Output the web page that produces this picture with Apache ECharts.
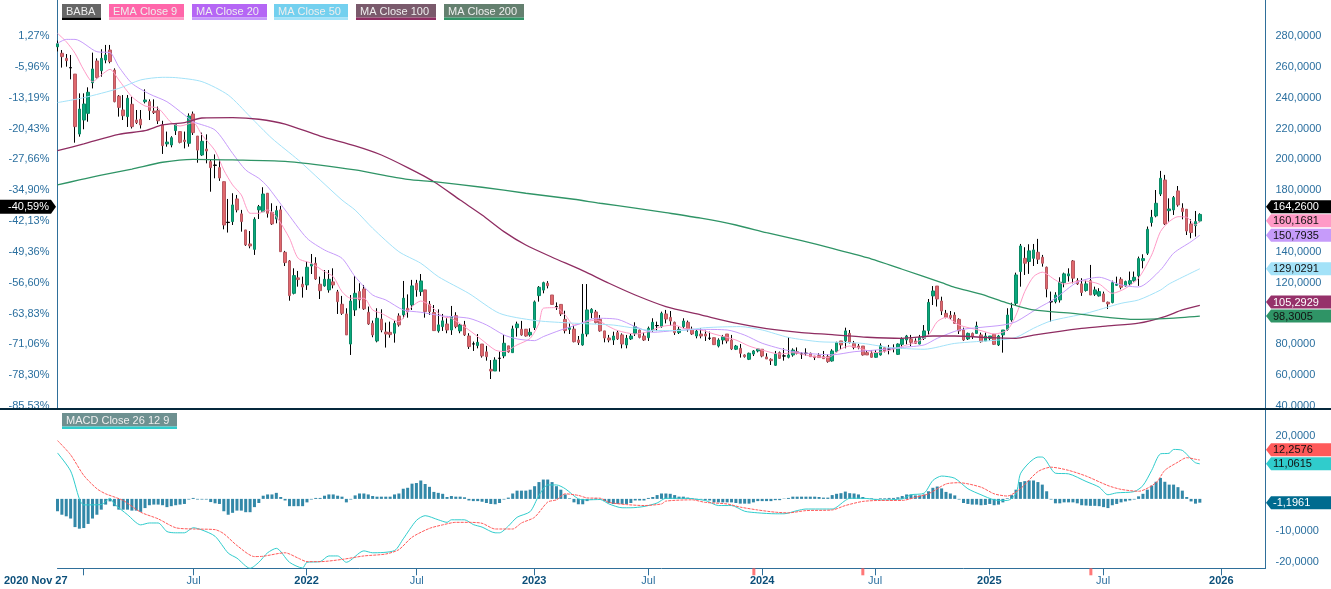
<!DOCTYPE html>
<html>
<head>
<meta charset="utf-8">
<title>BABA</title>
<script src="https://cdn.jsdelivr.net/npm/echarts@6/dist/echarts.min.js"></script>
<style>
html, body { margin: 0; padding: 0; background: #fff; }
#chart { width: 1331px; height: 589px; }
</style>
</head>
<body>
<div id="chart"></div>
<script>
// weekly candles
var opens = [273,
268.8,265.5,259.5,255.3,216.4,225.5,229.8,249.7,263.8,257.5,
264.4,270.9,257.9,241,232,227.7,235.7,225.5,226,237.4,
237.4,231.3,231.6,222.3,210,209.3,218.6,218,212.5,210.4,
229.4,215.1,202.8,206.7,198.5,196.3,194.6,185.5,159.2,159.6,
174.3,164.6,154.2,145.1,141.6,167.2,166,178,165.6,161.3,
167.2,139.7,134.1,113.1,123.1,119,118.5,130.8,132.6,119,
117.9,115.3,120.5,114,106,99.7,80.2,102.3,114.2,115.9,
100.8,93.6,82.2,96.4,88,87.8,87.2,98.4,99.1,103.4,
105.5,119.6,114.2,115.3,106,100.6,88.7,91.5,93.2,89.3,
98.6,88.7,92.6,85.4,80.3,79.2,80.2,75.1,63.8,62.7,
71,72.5,79,74.6,90.8,89.8,89.8,86.1,90.8,111.6,
115.2,119.6,112,104.5,105.9,96.2,89.7,89.9,82.8,79.6,
86.7,100.5,101,96.2,88.7,84.1,82.8,87.6,86.1,79.6,
83.5,87.1,89.3,85.4,84.3,89.3,92.2,91.5,99.7,97.5,
94.3,87.6,91.5,94.3,89.7,85.4,86.7,86.7,84,84.3,
78.9,82.8,86.7,82.8,76.8,77.4,73.1,70.3,73.7,75.7,
76.8,71.8,70.3,66.4,74.6,72.5,71.6,73.1,75.2,73.8,
74.3,74.2,72.4,72.7,72,72,69.2,75.2,82.2,82.2,
87.1,80.6,78.9,78.9,74.6,74.2,71.6,73.1,77.8,77,
77.4,73.5,80,82.8,83.5,82.2,80.2,83.9,88.9,111.4,
117.8,108.1,100.1,98.8,99,96.2,89.3,83.5,87.1,87.1,
86.1,82.2,83.9,86.5,79.6,86.1,89.7,95.8,106.6,127.2,
135.8,133.7,135.8,139.7,136.5,130,107.7,107.7,108.8,120,
124.4,134.1,121.3,119.2,114.9,121.3,112.5,111.4,112.7,107.3,
107.1,118.3,122.2,117.9,119.2,121.3,124.4,134.3,139.1,159,
163.3,177.5,186.6,166.7,167.2,179.5,168.3,167.6,158.1,157,160];
var closes = [275,
266.6,264,259.3,221.2,232.6,235.9,243.5,258.6,253,265.5,
267.7,263.4,237.4,233.7,228.3,239.6,221.2,223.8,222.3,238.5,
231.6,230.3,225,208.9,211.2,214,222.9,211,211.5,228.1,
217.3,206,211.7,205.4,194.6,196.1,187.9,157.4,159,170.4,
167.2,159.6,144.5,143.8,161.1,169.3,177.5,165,158.1,166.7,
140.1,133,111.6,124.6,122,117.2,130,132.1,122.4,114.8,
122.2,122.2,118.5,107.7,100.1,86.1,108.1,113.1,108.8,103,
93.2,86.1,96.9,89.3,86.7,86.3,93.6,92.6,109.9,101.2,
117.9,115.3,121.1,101.2,101.2,88.9,92.6,95.2,89.3,98,
91.5,92.6,86.1,78.5,80.2,81.3,72.5,72,62.7,69.8,
70.9,80.7,75.1,90,93.2,86.1,85.4,87.8,107.5,117,
120,118,105.9,104.3,99.7,88.9,90.8,81.7,81.1,86.7,
102.3,102.7,94.1,88.7,84.1,82.8,85.4,83.5,80.2,83.9,
85.4,91.5,84.5,82.8,90.4,94.3,92.1,100.1,96.4,95.1,
87.6,89.7,95.1,89.7,86.7,88.6,85.4,85.4,83.9,79.8,
82.8,85,82.2,77,78.9,74.2,72,74.2,75.7,77,
72.4,70.5,69.4,73.7,70.9,72.4,73.1,76.3,74.2,73.7,
74,72,71.4,71.4,70.7,68.8,75.7,81.1,79.6,88.7,
81.1,78,78,73.1,73.1,71.6,74.6,79.1,75.7,76.9,
77.3,80.2,83.5,85.4,81.3,80.6,84.5,88.7,107.2,114.6,
109.4,101.6,97.5,97.3,93.6,88.7,82.8,87.1,85,91.9,
81.7,85.4,85.4,80,85.4,89.3,99,103.4,125,143.8,
132.6,140.6,141.2,135.2,132.6,115.9,107.5,112,120.3,125.7,
125.7,122.9,119.2,113.6,119.2,112,115.3,114.2,107.7,106.2,
120,119,117,120.7,121.3,123.5,135.6,135.6,154.6,162.4,
171.5,187.7,158.1,167.8,175.2,170.4,166.1,153.5,152.5,159.6,164.26];
var lows = [270,
259.5,260.1,251.9,210.8,214.7,219.5,224.4,246,252.5,253.6,
262.3,262.3,237,227.7,225.5,221,220,222.9,220,236.3,
225.5,229.4,222.9,203.5,208.2,207.8,215.8,210.4,207.1,208.2,
215.8,197.8,202.2,197.4,179,187.7,186,154.6,152.5,157.4,
165.6,153.1,143.8,142.3,138,161.3,166,162.2,157.4,158.5,
140.1,130.8,108.3,112.4,117.4,110.3,115.3,125.6,121.8,109.4,
117.4,113.5,116.3,99.7,99.1,86.1,73.1,98.4,103.4,102.3,
92.6,84.6,81.3,87.8,77.9,84.3,81.1,91.5,96.9,97.3,
102.3,110.9,111.4,97.3,99.1,88.9,87.6,88.7,87.2,86.1,
90.4,87.2,85.4,77,75.7,77.4,71.4,69.4,57.5,62.7,
62.3,71,74.6,74.6,85,85.6,85,85,89.3,107.7,
113.1,116.3,105.9,102.3,98.4,87.1,86.7,81.3,79.6,79.1,
85,96.9,93.6,88.2,81.3,81.3,79.6,82.8,77.4,77.4,
82.8,85.4,83.9,82.2,82.2,88.2,88.6,90.8,93.6,92.1,
86.1,86.7,90.4,88.2,86.1,83.9,83.9,82.2,82.8,79.6,
78,80,80.6,76.3,76.3,71.4,71.4,69.8,72.4,74.8,
71.6,70.5,66.6,66,70.5,69.4,70.9,72,73.5,70.5,
72.6,72,69.8,71.4,70.7,68.1,68.8,74.8,76.8,77.4,
80.6,76.8,76.8,72.7,73.1,71.4,71.4,72.7,74.8,73.5,
74.8,73.1,77.4,80,78.9,80.2,80,82.8,86.1,105.5,
104.5,99,96.9,96.2,93.6,86.7,82.2,82.8,83.5,87.1,
81.1,82.2,82.4,79.6,78.9,74.6,88.9,94.7,105.5,117.4,
125,125.7,130.8,132.1,130.4,110.5,94.7,106.6,107.1,117,
120.7,119.6,118.5,111.4,114.2,112,111.4,111,107.7,102.9,
106.6,117.9,115.7,117.4,117.9,120.7,117.9,129.3,138,156.4,
162.4,176.2,157.4,159.6,163.9,169.3,161.1,150.9,148.8,149.9,159.2];
var highs = [277,
270.9,268.3,267.7,255.3,242.8,242.8,246.7,269.2,265.5,271.4,
274.2,274.2,259,241.7,241.7,241.7,240.6,232,232,245.4,
238.9,238.9,234.2,225,218,215,223.4,218,218,229.8,
231,215.1,217.3,216.2,200,203.2,199.6,185.5,174.3,178,
176.9,167.2,154.2,153.5,162.4,170.4,181.9,178,171.5,169.8,
169.8,140.6,134.7,129.3,127.6,123.9,133.6,138.6,136.5,123.9,
128.2,128.2,129.3,115.3,111.4,103.4,112,124.3,119.6,118.5,
104.5,95.4,103.4,102.7,94.1,94.7,95.4,100.1,121.1,112.4,
121.8,121.8,125.6,115.3,108.1,105.5,102.7,99.7,96.9,104.9,
100.8,93.2,95.2,87.2,81.8,86.7,80.2,79,69.8,71.6,
75.3,86.1,79,92.1,94.7,95.2,89.8,90.4,108.4,117.8,
120.6,121,112,107.2,105.9,101.8,93.6,92.1,85.4,119.1,
119.1,103.4,102.3,99,88.7,86.1,88.2,88.9,87.1,86.1,
86.7,94.3,89.7,87.6,91.5,96.9,94.7,101.2,102.3,101.6,
94.7,91.5,96.9,95.4,91.5,89.9,90.4,88.9,88.2,84.3,
83.9,86.1,86.7,86.1,79.6,80.2,73.5,74.6,76.3,77.4,
76.8,74.2,70.9,75.7,75.3,77.4,84.5,77.4,78,74.8,
77.4,74.6,72.4,74.2,75.7,73.5,76.8,81.7,82.2,90.8,
89.3,82.2,80.2,78.9,76.3,76.3,76.3,80.6,77.8,79.6,
80,80.6,84.5,86.1,86.1,83.9,86.1,92.5,109.4,117.8,
117.8,110.9,102.3,101.6,100.8,96.9,90.8,87.6,87.6,94.7,
87.6,87.6,85.4,86.7,86.1,89.3,103.4,107,126.5,145.1,
143,144.9,145.1,148.4,138,130.4,114.2,113.8,123.5,126.5,
129.3,134.7,122.9,122.9,121.3,131.5,117.4,116.4,114.2,107.7,
121.3,123.9,123.5,121.3,127.2,127.2,136.9,138.4,156.4,167.2,
180.1,192.5,189.9,174.7,176.2,182.7,171.5,167.6,161.1,166.5,165];

// moving averages as [week, value], read at points along each curve
var ema9 = [[0,281.7],[2,276.3],[4,268.8],[6,258],[8,250.4],[10,254.7],[12,258.4],[14,251.5],[17,240.6],[20,234.6],[23,233.1],[26,223.8],[28,221.6],[31,223.8],[33,215.8],[36,205.6],[38,193],[40,183.4],[42,176.9],[44,165],[46,165],[48,167.2],[50,162.8],[53,148.8],[55,135.8],[58,132.6],[61,127.2],[63,123.9],[65,114.2],[67,109.9],[70,109.9],[72,102.3],[74,100.1],[78,94.7],[80,101.2],[81,104.5],[83,108.1],[85,105.5],[88,98],[90,96.9],[94,89.3],[97,82.8],[100,76.3],[102,75.3],[105,79.6],[108,83.9],[110,93.6],[111,103.4],[114,103.8],[116,99],[118,92.5],[121,94.7],[123,95.8],[126,91.5],[128,88.9],[132,86.7],[135,88.2],[138,91.5],[141,92.5],[143,90.4],[147,89.3],[150,86.7],[155,82.8],[158,78.9],[161,76.3],[165,73.7],[168,74.6],[172,72.4],[176,71.4],[179,77],[181,78.9],[184,76.8],[187,74.6],[191,76.8],[194,79.6],[196,81.1],[199,86],[201,94.7],[203,97.5],[206,92.5],[211,88.9],[214,86.7],[217,89.3],[219,99],[221,114.2],[223,123.9],[225,126.8],[228,121.7],[230,119.1],[234,121.3],[238,119.1],[241,113.1],[244,116.3],[247,123],[250,138],[252,153.1],[254,159.6],[256,162.8],[258,162.4],[260,157.4],[261,160.17]];
var ma20 = [[0,275.2],[2,277.8],[4,277.8],[9,269.8],[12,269.2],[14,260.1],[17,249.3],[21,242.4],[25,237.4],[29,228.8],[31,224.4],[36,219],[40,203.9],[43,193.1],[46,187.7],[48,182.3],[52,167.2],[57,148.8],[61,141.2],[65,135.8],[68,123.9],[72,112],[75,108.8],[79,102.3],[83,100.8],[88,98.4],[94,96.9],[98,92.6],[102,86.1],[105,83.5],[109,82.4],[111,85],[115,89.3],[119,93],[123,96.9],[128,96.2],[132,91.5],[136,87.8],[141,88.9],[147,89.7],[153,89.3],[157,86],[161,80.7],[167,75.9],[171,74.2],[177,73.2],[182,75.2],[187,76.3],[193,78],[198,79.6],[201,83.9],[206,89.3],[211,91],[216,92.5],[219,94.7],[224,103.4],[228,109.8],[233,120.3],[238,123.5],[243,118.5],[247,117.2],[252,128.2],[255,139.1],[259,146.6],[261,150.79]];
var ma50 = [[0,236.8],[6,240],[14,246],[19,251.5],[24,253.2],[27,253],[33,250.4],[39,241.7],[44,227.7],[49,213.6],[55,199.6],[60,186.6],[65,173.6],[68,167.1],[72,155.3],[78,140.1],[83,132.6],[87,123.9],[94,113],[101,100.1],[109,95.5],[116,94],[122,93.2],[127,92.5],[132,90.4],[136,88.9],[142,88.9],[148,90.8],[156,91.5],[161,89.3],[167,84.5],[174,81.7],[179,81.3],[184,80.6],[190,78],[198,76.8],[205,80.6],[215,82.8],[219,84.5],[223,90.4],[227,95.2],[235,100.1],[243,106.6],[247,108.8],[252,115.2],[254,119.2],[261,129.03]];
var ma100 = [[0,205.6],[6,210],[14,216.2],[20,218.6],[24,222.3],[29,223.8],[33,226.8],[40,227],[46,226],[52,222.9],[60,215.1],[68,208.7],[74,202.8],[80,194.6],[86,185.5],[92,173.6],[97,163.9],[102,153.1],[107,144.4],[113,136.5],[120,127.8],[126,119.6],[132,112],[139,104.5],[147,99.1],[155,93.7],[162,90.2],[170,87.6],[177,86.3],[185,84.6],[193,83.9],[200,85.4],[205,85.4],[213,84.3],[219,83.9],[223,86],[234,90.4],[240,92],[247,93.7],[253,98],[257,102.3],[261,105.29]];
var ma200 = [[0,183.4],[5,186.6],[10,189.8],[17,193.7],[24,198.1],[31,200],[40,199.6],[52,198.7],[60,196.3],[68,193.1],[80,187],[86,185.5],[97,181.9],[107,178],[118,174.1],[124,171.5],[132,168.4],[139,165.4],[147,161.8],[155,157.4],[162,152.4],[170,147.2],[177,142.3],[185,136.2],[193,128.7],[202,120],[205,117],[211,112.5],[216,107.7],[223,102.3],[232,100.1],[240,97.5],[246,96.2],[254,96.9],[261,98.3]];

// MACD panel
var macdLine = [[0,14.5],[3,8.8],[5,0],[6,-1.9],[10,-1.8],[12,0.2],[13,-1.6],[16,-5],[19,-8.2],[21,-7.6],[23,-7.6],[25,-10.3],[27,-10.7],[29,-10.7],[31,-9.1],[33,-9.8],[36,-11.8],[39,-17.1],[41,-18.7],[44,-21.9],[46,-20],[48,-17],[50,-15.6],[53,-20],[56,-21.8],[57,-20],[60,-19.8],[62,-18],[64,-18],[66,-20],[70,-16.4],[72,-17],[77,-16.3],[79,-12.6],[82,-6.8],[84,-5.3],[87,-6.6],[89,-7.4],[90,-6.6],[93,-6.6],[95,-8.1],[97,-8.9],[100,-10.7],[101,-10.7],[103,-8.6],[105,-5.8],[108,-4],[110,1.1],[112,4.4],[114,4.4],[116,3.2],[119,0],[121,-0.3],[124,-0.2],[126,-1.6],[129,-2.8],[131,-2.8],[134,-2.4],[137,-1.3],[139,0.2],[143,0.2],[148,-0.5],[151,-2.1],[154,-2.1],[157,-3.9],[160,-4.4],[164,-4.7],[166,-4.7],[169,-3.7],[171,-3.2],[177,-3.2],[180,-0.5],[181,0.2],[184,0.2],[188,-0.3],[193,0],[195,1.3],[198,1.8],[200,5.8],[202,7.2],[205,6.5],[208,3.2],[211,1.3],[214,-0.3],[217,-0.5],[219,1.6],[220,7.9],[222,11.4],[224,13.2],[225,13.2],[228,8.1],[231,7.9],[235,5.5],[238,3.7],[240,1.3],[242,1.9],[246,2.3],[248,4.2],[250,9],[252,14.2],[254,14.4],[255,15.6],[257,15.3],[259,12.6],[260,11.4],[261,11.06]];
var signalLine = [[0,18.4],[3,13.9],[6,7.4],[9,3.2],[11,1.6],[15,-0.5],[19,-4.2],[23,-6.3],[27,-9.1],[31,-9.5],[36,-9.7],[38,-11],[41,-14.7],[45,-18.2],[47,-18.1],[52,-17],[55,-18.7],[57,-19.8],[60,-19.8],[65,-19.1],[70,-18],[75,-17.4],[78,-16],[81,-12.1],[85,-9.3],[88,-8.2],[91,-7.4],[94,-7.4],[97,-7.7],[100,-9.5],[104,-9.5],[106,-7.6],[109,-5.8],[112,-1],[114,-0.3],[116,1.6],[119,1.1],[121,0.3],[124,0.2],[126,-1.1],[130,-1.8],[134,-2.1],[138,-1.6],[139,-0.7],[145,-0.3],[148,-1.1],[153,-1.6],[156,-2.6],[160,-3.5],[164,-4.2],[167,-4.4],[171,-3.7],[177,-3.5],[180,-2.1],[184,-0.8],[188,-0.5],[193,-0.5],[196,0.5],[199,1.6],[203,4.7],[206,5.1],[211,3.7],[214,1.6],[217,0.9],[220,3.2],[224,8.6],[227,10],[231,9],[235,7.2],[240,4.2],[243,3],[247,2.4],[251,5.1],[253,9],[256,11.6],[258,13],[260,12.5],[261,12.26]];
var macdHist = [-3.9,-5,-5.5,-6.2,-8.9,-9.4,-9.2,-7.9,-6.2,-5,-3.4,-1.8,-0.8,-2.3,-3.4,-3.4,-3.4,-3.7,-3.7,-4.1,
-2.9,-2,-1.8,-1.8,-2,-2.6,-2.3,-2,-1.8,-1.6,-0.2,0.3,-0.2,-0.2,-0.2,-1,-1.4,-1.6,-3.9,-5,
-4.4,-3.7,-3.7,-4.2,-4.2,-2.6,-1.3,1,1.4,1.4,1.9,0.6,-0.5,-2.3,-2.3,-2.3,-2.3,-1.1,-0.2,0.3,
0.3,1,1.4,1.4,1,0.7,-1.1,-0.2,1.1,1.7,1.7,1.4,0.9,0.7,0.7,0.7,0.7,1.4,1.7,3.2,
3.5,4.8,5,5.8,4.7,3.8,2.2,1.9,1.6,0.6,0.9,0.7,0.7,0.5,-0.5,-0.7,-0.7,-0.9,-1.3,-1.6,
-1.7,-1.3,-0.2,0.4,1.7,2.6,2.6,2.6,2.9,4,5.3,6.1,6.1,5.3,4,2.9,1.4,0.2,-1.1,-1.7,
-1.7,-0.7,-0.2,0.2,-0.2,-0.7,-1.3,-1.6,-1.6,-1.6,-1.6,-1.3,-0.5,-0.5,-0.5,0.3,0.6,1.2,1.7,1.7,
1.6,1.2,0.7,0.7,0.4,0.2,-0.2,-0.2,-0.4,-0.5,-1.1,-1.1,-1.1,-1.1,-1.1,-1.3,-1.5,-1.5,-1.5,-1.1,
-0.7,-0.7,-0.7,-0.7,-0.4,-0.4,0.1,0.3,0.7,0.7,0.7,0.7,0.7,0.7,0.6,0.4,0.4,1.2,1.6,1.8,
2.3,1.8,1.7,1.4,0.6,0.1,0.2,-0.2,0.2,0.2,0.3,0.3,0.5,0.9,1.4,1.4,1.1,1.1,1.4,2.4,
3.5,3.9,3.3,2.2,1.7,1.1,-0.2,-1.3,-1.6,-1.8,-1.8,-2,-1.9,-1.6,-2,-1.8,-1.1,0.2,1.2,2.9,
5.3,5.6,5.8,5.8,5.3,4.5,2.4,-0.2,-1.4,-1.4,-1.1,-1.1,-1.1,-1.4,-2,-2.1,-2.2,-2.2,-2.3,-2.6,
-2.9,-2,-1.6,-1.1,-0.8,-0.5,-0.2,0.8,1.6,2.9,4.2,5.4,6.6,5.4,4.5,4.5,3.7,2.6,0.6,-0.8,-1.5,-1.196];

// axis text
var weekCount = 277;
var priceTicks = [280,260,240,220,200,180,140,120,80,60,40];
var percentTicks = [1.27,-5.96,-13.19,-20.43,-27.66,-34.90,-42.13,-49.36,-56.60,-63.83,-71.06,-78.30,-85.53];
var macdTicks = [20,-10,-20];
var timeTicks = [5.89,31.1,56.9,82.07,108.9,135,161,186.8,212.9,238.9,265.9];
var timeLabels = ['','Jul','2022','Jul','2023','Jul','2024','Jul','2025','Jul','2026'];
var eventWeeks = [159.1,184,236.1];

var axisBlue = '#2f6f9a';
var textBlue = '#2a6f9f';
var fontName = '"Liberation Sans", Arial, sans-serif';

function comma(v, digits) {
    return v.toFixed(digits).replace('.', ',');
}

var weeks = [];
for (var i = 0; i < weekCount; i++) {
    weeks.push(new Date(Date.UTC(2020, 10, 27 + i * 7)).toISOString().slice(0, 10));
}

var wickData = [];
var bodyData = [];
for (var j = 0; j < opens.length; j++) {
    wickData.push([opens[j], closes[j], lows[j], highs[j]]);
    var bodyHigh = Math.max(opens[j], closes[j]);
    var bodyLow = Math.min(opens[j], closes[j]);
    var item = { value: [opens[j], closes[j], bodyLow, bodyHigh] };
    if (bodyHigh - bodyLow < 0.4) {
        item.itemStyle = { color: '#000', color0: '#000', borderColor: '#000', borderColor0: '#000' };
    }
    bodyData.push(item);
}

function lineSeries(name, data, color, dash, xIdx, yIdx, width) {
    return {
        name: name,
        type: 'line',
        data: data,
        xAxisIndex: xIdx,
        yAxisIndex: yIdx,
        symbol: 'none',
        smooth: 0.25,
        lineStyle: { color: color, width: width || 1, type: dash },
        z: 4
    };
}

var chart = echarts.init(document.getElementById('chart'));
chart.setOption({
    animation: false,
    backgroundColor: '#fff',
    textStyle: { fontFamily: fontName },
    grid: [
        { left: 57.5, width: 1208, top: 0, height: 408 },
        { left: 57.5, width: 1208, top: 410, height: 158.3 }
    ],
    xAxis: [
        { type: 'category', gridIndex: 0, data: weeks, boundaryGap: false, show: false },
        { type: 'category', gridIndex: 1, data: weeks, boundaryGap: false, show: false, position: 'top' },
        {
            type: 'value',
            gridIndex: 1,
            position: 'bottom',
            min: 0,
            max: weekCount - 1,
            splitLine: { show: false },
            axisLine: { onZero: false, lineStyle: { color: axisBlue } },
            axisTick: { length: 7, customValues: timeTicks, lineStyle: { color: axisBlue } },
            axisLabel: {
                customValues: timeTicks,
                margin: 7,
                fontSize: 11,
                color: textBlue,
                formatter: function (v) {
                    var s = timeLabels[timeTicks.indexOf(v)] || '';
                    return s.length === 4 ? '{y|' + s + '}' : s;
                },
                rich: { y: { fontSize: 11, fontWeight: 'bold', color: '#0b4f7a' } }
            }
        }
    ],
    yAxis: [
        {
            type: 'value',
            gridIndex: 0,
            position: 'right',
            min: 38.7,
            max: 303.35,
            splitLine: { show: false },
            axisLine: { show: true, onZero: false, lineStyle: { color: axisBlue } },
            axisTick: { show: false },
            axisLabel: {
                customValues: priceTicks,
                margin: 10,
                padding: [2, 0, 0, 0],
                fontSize: 11,
                color: textBlue,
                formatter: function (v) { return comma(v, 4); }
            }
        },
        {
            type: 'value',
            gridIndex: 0,
            position: 'left',
            min: -86,
            max: 9.715,
            splitLine: { show: false },
            axisLine: { show: true, onZero: false, lineStyle: { color: axisBlue } },
            axisTick: { show: false },
            axisLabel: {
                customValues: percentTicks,
                margin: 8,
                padding: [2, 0, 0, 0],
                fontSize: 11,
                color: textBlue,
                formatter: function (v) { return comma(v, 2) + '%'; }
            }
        },
        {
            type: 'value',
            gridIndex: 1,
            position: 'right',
            min: -21.9,
            max: 28.04,
            splitLine: { show: false },
            axisLine: { show: true, onZero: false, lineStyle: { color: axisBlue } },
            axisTick: { show: false },
            axisLabel: {
                customValues: macdTicks,
                margin: 10,
                padding: [2, 0, 0, 0],
                fontSize: 11,
                color: textBlue,
                formatter: function (v) { return comma(v, 4); }
            }
        }
    ],
    series: [
        {
            name: 'BABA range',
            type: 'candlestick',
            data: wickData,
            xAxisIndex: 0,
            yAxisIndex: 0,
            barWidth: 1,
            itemStyle: { color: '#000', color0: '#000', borderColor: '#000', borderColor0: '#000', borderWidth: 1 },
            z: 2
        },
        {
            name: 'BABA',
            type: 'candlestick',
            data: bodyData,
            xAxisIndex: 0,
            yAxisIndex: 0,
            barWidth: 3,
            itemStyle: { color: '#0aa87c', color0: '#e0686c', borderColor: '#0b8a66', borderColor0: '#b85a64', borderWidth: 1 },
            z: 3
        },
        lineSeries('EMA Close 9', ema9, '#ff9ac6', 'solid', 0, 0),
        lineSeries('MA Close 20', ma20, '#c69bfa', 'solid', 0, 0),
        lineSeries('MA Close 50', ma50, '#a3e2f8', 'solid', 0, 0),
        lineSeries('MA Close 100', ma100, '#8f2d62', 'solid', 0, 0, 1.3),
        lineSeries('MA Close 200', ma200, '#2f9466', 'solid', 0, 0, 1.3),
        {
            name: 'MACD histogram',
            type: 'bar',
            data: macdHist,
            xAxisIndex: 1,
            yAxisIndex: 2,
            barWidth: 3,
            itemStyle: { color: '#3388a8' },
            z: 2
        },
        lineSeries('MACD', macdLine, '#30cccc', 'solid', 1, 2),
        lineSeries('Signal', signalLine, '#ff5a5a', [3, 1], 1, 2),
        {
            name: 'Events',
            type: 'scatter',
            data: eventWeeks.map(function (w) { return [w, -21.9]; }),
            xAxisIndex: 2,
            yAxisIndex: 2,
            symbol: 'rect',
            symbolSize: [3, 7],
            symbolOffset: [0, 3.5],
            clip: false,
            itemStyle: { color: '#ff5555' },
            z: 6
        }
    ]
});

// legend chips
var chipNames = ['BABA', 'EMA Close 9', 'MA Close 20', 'MA Close 50', 'MA Close 100', 'MA Close 200', 'MACD Close 26 12 9'];
var chipLeft = [62, 109, 192, 274, 356, 444, 62];
var chipWidth = [39, 75, 75, 74, 80, 80, 115];
var chipTop = [4, 4, 4, 4, 4, 4, 413];
var chipFill = ['#666666', '#ff66aa', '#b566f5', '#73d0ef', '#7a5a6c', '#64806f', '#6e9090'];
var chipEdge = ['#000000', '#ff9ac6', '#c69bfa', '#a3e2f8', '#8f2d62', '#2f9466', '#30cccc'];

var elements = [];
chipNames.forEach(function (name, n) {
    elements.push({ type: 'rect', z: 50, shape: { x: chipLeft[n], y: chipTop[n], width: chipWidth[n], height: 13.5 }, style: { fill: chipFill[n] } });
    elements.push({ type: 'rect', z: 50, shape: { x: chipLeft[n], y: chipTop[n] + 13.5, width: chipWidth[n], height: 2.5 }, style: { fill: chipEdge[n] } });
    elements.push({ type: 'text', z: 51, x: chipLeft[n] + 4, y: chipTop[n] + 7.5, style: { text: name, fill: '#eeeeee', font: '11px ' + fontName, verticalAlign: 'middle' } });
});

// panel separator, it also cuts the lowest axis labels
elements.push({ type: 'rect', z: 40, shape: { x: 0, y: 410, width: 57, height: 7 }, style: { fill: '#fff' } });
elements.push({ type: 'rect', z: 40, shape: { x: 1266.5, y: 410, width: 65, height: 7 }, style: { fill: '#fff' } });
elements.push({ type: 'rect', z: 41, shape: { x: 0, y: 408, width: 1331, height: 2 }, style: { fill: '#05283c' } });

// last-value badges, pushed apart from the bottom up as in the source
function addBadges(list, axisIndex) {
    var lastY = Infinity;
    list.forEach(function (b) {
        var y = chart.convertToPixel({ yAxisIndex: axisIndex }, b.value);
        if (lastY - y < 14) { y = lastY - 14; }
        lastY = y;
        b.y = y;
        elements.push({
            type: 'polygon',
            z: 60,
            shape: { points: [[1266, y], [1271, y - 6.5], [1331, y - 6.5], [1331, y + 6.5], [1271, y + 6.5]] },
            style: { fill: b.fill }
        });
        elements.push({
            type: 'text',
            z: 61,
            x: 1273,
            y: y + 0.5,
            style: { text: comma(b.value, 4), fill: b.text, font: '11px ' + fontName, verticalAlign: 'middle' }
        });
    });
}

var priceBadges = [
    { value: 98.3005, fill: '#2f9466', text: '#111' },
    { value: 105.2929, fill: '#96316a', text: '#fff' },
    { value: 129.0291, fill: '#a3e2f8', text: '#111' },
    { value: 150.7935, fill: '#c69bfa', text: '#111' },
    { value: 160.1681, fill: '#ff9ac6', text: '#111' },
    { value: 164.26, fill: '#000', text: '#fff' }
];
addBadges(priceBadges, 0);
addBadges([
    { value: -1.1961, fill: '#006b8f', text: '#fff' },
    { value: 11.0615, fill: '#30cccc', text: '#111' },
    { value: 12.2576, fill: '#ff5a5a', text: '#111' }
], 2);

var closeY = priceBadges[5].y;
elements.push({
    type: 'polygon',
    z: 60,
    shape: { points: [[0, closeY - 7], [51, closeY - 7], [56, closeY], [51, closeY + 7], [0, closeY + 7]] },
    style: { fill: '#000' }
});
elements.push({
    type: 'text',
    z: 61,
    x: 49,
    y: closeY + 0.5,
    style: { text: '-40,59%', fill: '#fff', font: '11px ' + fontName, align: 'right', verticalAlign: 'middle' }
});
elements.push({
    type: 'text',
    z: 61,
    x: 4,
    y: 580.5,
    style: { text: '2020 Nov 27', fill: '#0b4f7a', font: 'bold 11px ' + fontName, verticalAlign: 'middle' }
});

chart.setOption({ graphic: { elements: elements } });
</script>
</body>
</html>
